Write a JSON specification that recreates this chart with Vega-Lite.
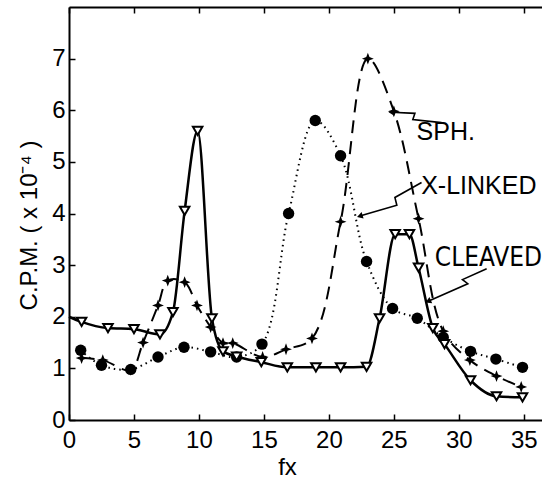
{
  "$schema": "https://vega.github.io/schema/vega-lite/v6.json",
  "autosize": "none",
  "width": 473,
  "height": 413,
  "padding": {"left": 69, "top": 7, "right": 0, "bottom": 59},
  "background": "white",
  "config": {
    "view": {"stroke": null},
    "font": "Liberation Sans",
    "axis": {
      "grid": false,
      "domainColor": "black",
      "domainWidth": 2,
      "tickColor": "black",
      "tickWidth": 1.5,
      "labelColor": "black",
      "labelFont": "Liberation Sans",
      "labelFontSize": 24,
      "labelFlush": false,
      "labelOverlap": false,
      "titleColor": "black",
      "titleFont": "Liberation Sans",
      "titleFontSize": 24,
      "titleFontWeight": "normal"
    }
  },
  "resolve": {"axis": {"x": "independent"}},
  "datasets": {
    "series": [
      {"series": "SPH", "fx": 0.9, "cpm": 1.35},
      {"series": "SPH", "fx": 2.5, "cpm": 1.06},
      {"series": "SPH", "fx": 4.75, "cpm": 0.98},
      {"series": "SPH", "fx": 6.85, "cpm": 1.22},
      {"series": "SPH", "fx": 8.85, "cpm": 1.41},
      {"series": "SPH", "fx": 10.9, "cpm": 1.32},
      {"series": "SPH", "fx": 12.9, "cpm": 1.22},
      {"series": "SPH", "fx": 14.85, "cpm": 1.47},
      {"series": "SPH", "fx": 16.9, "cpm": 4.0},
      {"series": "SPH", "fx": 18.95, "cpm": 5.8},
      {"series": "SPH", "fx": 20.9, "cpm": 5.12},
      {"series": "SPH", "fx": 22.9, "cpm": 3.07},
      {"series": "SPH", "fx": 24.9, "cpm": 2.16},
      {"series": "SPH", "fx": 26.8, "cpm": 1.97},
      {"series": "SPH", "fx": 28.8, "cpm": 1.6},
      {"series": "SPH", "fx": 30.9, "cpm": 1.33},
      {"series": "SPH", "fx": 32.85, "cpm": 1.18},
      {"series": "SPH", "fx": 34.9, "cpm": 1.02},

      {"series": "X-LINKED", "fx": 0.97, "cpm": 1.2},
      {"series": "X-LINKED", "fx": 2.6, "cpm": 1.16},
      {"series": "X-LINKED", "fx": 4.75, "cpm": 0.97},
      {"series": "X-LINKED", "fx": 5.7, "cpm": 1.5},
      {"series": "X-LINKED", "fx": 6.85, "cpm": 2.22},
      {"series": "X-LINKED", "fx": 7.6, "cpm": 2.7},
      {"series": "X-LINKED", "fx": 8.9, "cpm": 2.67},
      {"series": "X-LINKED", "fx": 9.85, "cpm": 2.22},
      {"series": "X-LINKED", "fx": 10.9, "cpm": 1.8},
      {"series": "X-LINKED", "fx": 11.85, "cpm": 1.49},
      {"series": "X-LINKED", "fx": 12.6, "cpm": 1.49},
      {"series": "X-LINKED", "fx": 14.9, "cpm": 1.22},
      {"series": "X-LINKED", "fx": 16.7, "cpm": 1.37},
      {"series": "X-LINKED", "fx": 18.7, "cpm": 1.58},
      {"series": "X-LINKED", "fx": 20.9, "cpm": 3.84},
      {"series": "X-LINKED", "fx": 23.0, "cpm": 7.0},
      {"series": "X-LINKED", "fx": 25.0, "cpm": 5.98},
      {"series": "X-LINKED", "fx": 26.9, "cpm": 3.9},
      {"series": "X-LINKED", "fx": 28.8, "cpm": 1.72},
      {"series": "X-LINKED", "fx": 30.85, "cpm": 1.16},
      {"series": "X-LINKED", "fx": 32.9, "cpm": 0.85},
      {"series": "X-LINKED", "fx": 34.8, "cpm": 0.64},

      {"series": "CLEAVED", "fx": 0, "cpm": 2.0, "marker": false},
      {"series": "CLEAVED", "fx": 0.97, "cpm": 1.9},
      {"series": "CLEAVED", "fx": 3.0, "cpm": 1.78},
      {"series": "CLEAVED", "fx": 5.0, "cpm": 1.76},
      {"series": "CLEAVED", "fx": 7.0, "cpm": 1.66},
      {"series": "CLEAVED", "fx": 8.0, "cpm": 2.09},
      {"series": "CLEAVED", "fx": 8.9, "cpm": 4.05},
      {"series": "CLEAVED", "fx": 9.9, "cpm": 5.6},
      {"series": "CLEAVED", "fx": 11.0, "cpm": 1.97},
      {"series": "CLEAVED", "fx": 11.85, "cpm": 1.33},
      {"series": "CLEAVED", "fx": 12.9, "cpm": 1.23},
      {"series": "CLEAVED", "fx": 14.8, "cpm": 1.12},
      {"series": "CLEAVED", "fx": 16.8, "cpm": 1.02},
      {"series": "CLEAVED", "fx": 19.0, "cpm": 1.02},
      {"series": "CLEAVED", "fx": 20.9, "cpm": 1.02},
      {"series": "CLEAVED", "fx": 22.9, "cpm": 1.03},
      {"series": "CLEAVED", "fx": 23.9, "cpm": 1.97},
      {"series": "CLEAVED", "fx": 25.1, "cpm": 3.6},
      {"series": "CLEAVED", "fx": 26.2, "cpm": 3.6},
      {"series": "CLEAVED", "fx": 26.9, "cpm": 2.95},
      {"series": "CLEAVED", "fx": 28.0, "cpm": 1.78},
      {"series": "CLEAVED", "fx": 28.9, "cpm": 1.47},
      {"series": "CLEAVED", "fx": 30.9, "cpm": 0.77},
      {"series": "CLEAVED", "fx": 32.9, "cpm": 0.46},
      {"series": "CLEAVED", "fx": 34.9, "cpm": 0.44}
    ],
    "arrows": [
      {"arrow": "SPH", "seq": 0, "fx": 24.82, "cpm": 5.96},
      {"arrow": "SPH", "seq": 1, "fx": 26.62, "cpm": 5.94},
      {"arrow": "SPH", "seq": 2, "fx": 26.46, "cpm": 5.82},
      {"arrow": "SPH", "seq": 3, "fx": 28.67, "cpm": 5.76},
      {"arrow": "X-LINKED", "seq": 0, "fx": 22.38, "cpm": 3.95},
      {"arrow": "X-LINKED", "seq": 1, "fx": 25.23, "cpm": 4.16},
      {"arrow": "X-LINKED", "seq": 2, "fx": 25.08, "cpm": 4.31},
      {"arrow": "X-LINKED", "seq": 3, "fx": 27.13, "cpm": 4.6},
      {"arrow": "CLEAVED", "seq": 0, "fx": 27.64, "cpm": 2.3},
      {"arrow": "CLEAVED", "seq": 1, "fx": 30.69, "cpm": 2.64},
      {"arrow": "CLEAVED", "seq": 2, "fx": 30.28, "cpm": 2.72},
      {"arrow": "CLEAVED", "seq": 3, "fx": 32.14, "cpm": 2.93}
    ],
    "labels": [
      {"name": "SPH.", "fx": 26.75, "cpm": 5.58},
      {"name": "X-LINKED", "fx": 27.1, "cpm": 4.53},
      {"name": "CLEAVED", "fx": 28.15, "cpm": 3.13}
    ]
  },
  "encoding": {
    "x": {
      "field": "fx",
      "type": "quantitative",
      "scale": {"domain": [0, 36.4], "nice": false, "zero": false},
      "axis": null
    },
    "y": {
      "field": "cpm",
      "type": "quantitative",
      "scale": {"domain": [0, 8], "nice": false},
      "axis": {
        "values": [0, 1, 2, 3, 4, 5, 6, 7],
        "tickSize": -6,
        "labelPadding": 10,
        "labelAlign": "right",
        "title": "C.P.M. ( x 10⁻⁴ )",
        "titleX": -40,
        "titleY": 218,
        "titleBaseline": "middle"
      }
    }
  },
  "layer": [
    {
      "data": {"name": "series"},
      "transform": [{"filter": "datum.series === 'CLEAVED'"}],
      "mark": {"type": "line", "color": "black", "strokeWidth": 2.5, "interpolate": "monotone"},
      "encoding": {
        "x": {
          "field": "fx",
          "type": "quantitative",
          "axis": {
            "orient": "bottom",
            "values": [0, 5, 10, 15, 20, 25, 30, 35],
            "tickSize": -6,
            "labelPadding": 14,
            "title": "fx",
            "titleX": 218,
            "titleY": 47,
            "titleBaseline": "middle"
          }
        }
      }
    },
    {
      "data": {"name": "series"},
      "transform": [{"filter": "datum.series === 'X-LINKED'"}],
      "mark": {"type": "line", "color": "black", "strokeWidth": 2, "strokeDash": [13, 8], "interpolate": "catmull-rom"}
    },
    {
      "data": {"name": "series"},
      "transform": [{"filter": "datum.series === 'SPH'"}],
      "mark": {"type": "line", "color": "black", "strokeWidth": 2, "strokeDash": [1.5, 4], "interpolate": "catmull-rom"}
    },
    {
      "data": {"name": "series"},
      "transform": [{"filter": "datum.series === 'SPH'"}],
      "mark": {"type": "point", "shape": "circle", "filled": true, "color": "black", "size": 130, "opacity": 1}
    },
    {
      "data": {"name": "series"},
      "transform": [{"filter": "datum.series === 'X-LINKED'"}],
      "mark": {"type": "point", "shape": "M0,-1L0.27,-0.27L1,0L0.27,0.27L0,1L-0.27,0.27L-1,0L-0.27,-0.27Z", "filled": true, "color": "black", "size": 140, "opacity": 1}
    },
    {
      "data": {"name": "series"},
      "transform": [{"filter": "datum.series === 'CLEAVED' && datum.marker !== false"}],
      "mark": {"type": "point", "shape": "triangle-down", "filled": false, "fill": "white", "stroke": "black", "strokeWidth": 2, "size": 90, "opacity": 1}
    },
    {
      "data": {"name": "arrows"},
      "mark": {"type": "line", "color": "black", "strokeWidth": 1.6, "interpolate": "linear"},
      "encoding": {
        "detail": {"field": "arrow"},
        "order": {"field": "seq", "type": "quantitative"}
      }
    },
    {
      "data": {"name": "arrows"},
      "transform": [{"filter": "datum.seq === 0 && datum.arrow === 'SPH'"}],
      "mark": {"type": "point", "shape": "triangle-left", "filled": true, "color": "black", "size": 45, "angle": 3, "opacity": 1}
    },
    {
      "data": {"name": "arrows"},
      "transform": [{"filter": "datum.seq === 0 && datum.arrow === 'X-LINKED'"}],
      "mark": {"type": "point", "shape": "triangle-left", "filled": true, "color": "black", "size": 45, "angle": 343, "opacity": 1}
    },
    {
      "data": {"name": "arrows"},
      "transform": [{"filter": "datum.seq === 0 && datum.arrow === 'CLEAVED'"}],
      "mark": {"type": "point", "shape": "triangle-left", "filled": true, "color": "black", "size": 45, "angle": 336, "opacity": 1}
    },
    {
      "data": {"name": "labels"},
      "transform": [{"filter": "datum.name !== 'CLEAVED'"}],
      "mark": {"type": "text", "align": "left", "baseline": "middle", "font": "Liberation Sans", "fontSize": 25, "color": "black"},
      "encoding": {"text": {"field": "name"}}
    },
    {
      "data": {"name": "labels"},
      "transform": [{"filter": "datum.name === 'CLEAVED'"}],
      "mark": {"type": "text", "align": "left", "baseline": "middle", "font": "Liberation Sans Narrow, DejaVu Sans Condensed, Roboto Condensed, Liberation Sans", "fontSize": 26, "color": "black"},
      "encoding": {"text": {"field": "name"}}
    },
    {
      "data": {"name": "labels"},
      "mark": {"type": "point", "opacity": 0},
      "encoding": {
        "x": {
          "field": "fx",
          "type": "quantitative",
          "axis": {
            "orient": "top",
            "values": [0, 5, 10, 15, 20, 25, 30, 35],
            "tickSize": -6,
            "labels": false,
            "title": null
          }
        }
      }
    }
  ]
}
